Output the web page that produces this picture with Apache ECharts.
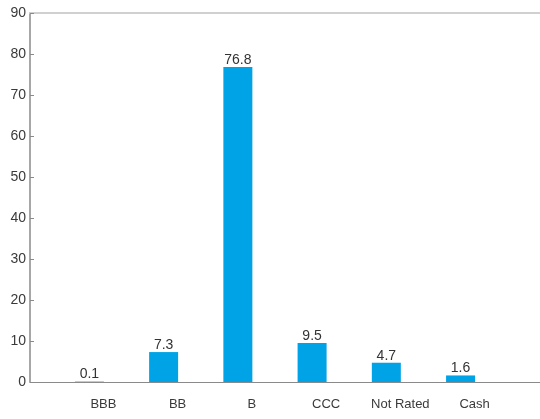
<!DOCTYPE html>
<html><head><meta charset="utf-8">
<script src="https://cdn.jsdelivr.net/npm/echarts@6/dist/echarts.min.js"></script>
<style>html,body{margin:0;padding:0;background:#fff}#c{width:540px;height:419px}</style>
</head><body><div id="c"></div>
<script>
var categories = ['BBB', 'BB', 'B', 'CCC', 'Not Rated', 'Cash'];
var values = [0.1, 7.3, 76.8, 9.5, 4.7, 1.6];
var yTicks = [0, 10, 20, 30, 40, 50, 60, 70, 80, 90];

var chart = echarts.init(document.getElementById('c'), null, {renderer: 'canvas'});
var font = 'Liberation Sans, Arial, sans-serif';
chart.setOption({
  animation: false,
  grid: {left: 30, right: 0, top: 13, bottom: 37},
  xAxis: [{
    type: 'value', min: -0.8, max: 6.07,
    axisLine: {show: true, onZero: true, lineStyle: {color: '#8a8a8a', width: 1}},
    axisTick: {show: false},
    splitLine: {show: false},
    axisLabel: {
      customValues: categories.map(function (c, i) { return i; }),
      formatter: function (v) { return categories[Math.round(v)] || ''; },
      color: '#3a3a3a', fontFamily: font, fontSize: 13, margin: 16,
      padding: [0, 0, 0, 28]
    }
  }, {
    type: 'value', position: 'top', min: -0.8, max: 6.07,
    axisLine: {show: true, onZero: false, lineStyle: {color: '#d0d0d0', width: 2}},
    axisTick: {show: false}, axisLabel: {show: false}, splitLine: {show: false}
  }],
  yAxis: {
    type: 'value', min: yTicks[0], max: yTicks[yTicks.length - 1], interval: 10,
    axisLine: {show: true, onZero: false, lineStyle: {color: '#8a8a8a', width: 1.5}},
    axisTick: {show: true, inside: true, length: 4, lineStyle: {color: '#8a8a8a'}},
    splitLine: {show: false},
    axisLabel: {color: '#3a3a3a', fontFamily: font, fontSize: 14, margin: 4}
  },
  series: [{
    type: 'bar',
    barWidth: 29,
    data: values.map(function (v, i) { return [i, v]; }),
    itemStyle: {color: '#00a3e6'},
    label: {
      show: true, position: 'top', distance: 0,
      color: '#333', fontFamily: font, fontSize: 14,
      formatter: function (p) { return p.value[1].toFixed(1); }
    }
  }]
});
</script></body></html>
